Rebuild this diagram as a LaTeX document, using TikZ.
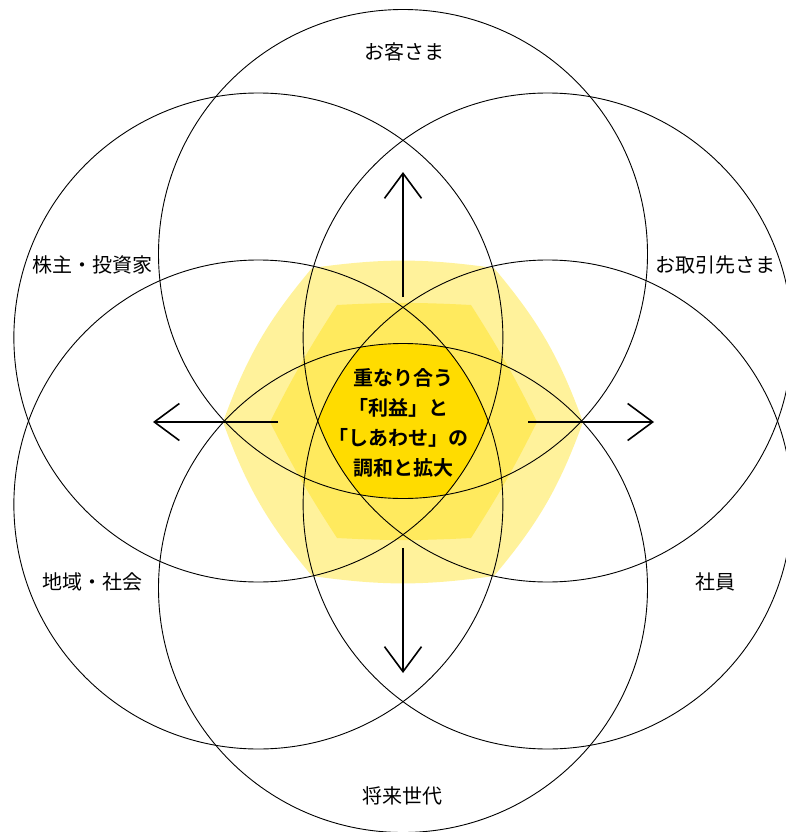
\documentclass[tikz,border=0pt]{standalone}
\usepackage{fontspec}
\setmainfont{Noto Sans CJK JP}[BoldFont={Noto Sans CJK JP Bold}]
\newfontfamily\coeurfont{Noto Sans CJK JP Bold}
\newfontfamily\coeurhalt{Noto Sans CJK JP Bold}[RawFeature=+halt]
\usetikzlibrary{arrows.meta}
\definecolor{jaunepale}{HTML}{FFF29B}
\definecolor{jaunemoyen}{HTML}{FFEA5E}
\definecolor{jaunevif}{HTML}{FFDC00}
\tikzstyle{cercle}=[draw=black,line width=0.9pt]
\tikzstyle{fleche}=[-{Straight Barb[length=25pt,width=37pt]},line width=1.6pt,line join=miter]
\tikzstyle{partie}=[font=\fontsize{20}{24}\selectfont,inner sep=0pt]
\tikzstyle{coeur}=[align=center,font=\coeurfont\fontsize{20}{30}\selectfont,inner sep=0pt]
\newcommand{\ouvre}{{\coeurhalt 「}}

\begin{document}
\begin{tikzpicture}[x=1pt,y=-1pt]
\useasboundingbox (0,0) rectangle (786,832);
\coordinate (c) at (403,421);
%fonds jaunes
\fill[jaunepale] (223,422) to[bend left=10] (312,268) to[bend left=8] (494,268)
  to[bend left=10] (583,422) to[bend left=10] (494,576) to[bend left=8] (312,576)
  to[bend left=10] cycle;
\fill[jaunemoyen] (270,422) to[bend left=3] (337,305) to[bend left=3] (471,305)
  to[bend left=3] (537,422) to[bend left=3] (471,538) to[bend left=3] (337,538)
  to[bend left=3] cycle;
\begin{scope}
\clip (c) ++(30:167) circle (244.5);
\clip (c) ++(90:167) circle (244.5);
\clip (c) ++(150:167) circle (244.5);
\clip (c) ++(210:167) circle (244.5);
\clip (c) ++(270:167) circle (244.5);
\clip (c) ++(330:167) circle (244.5);
\fill[jaunevif] (c) circle (120);
\end{scope}
%cercles
\foreach \a in {30,90,150,210,270,330}
  \draw[cercle] (c) ++(\a:167) circle (244.5);
%fleches
\coordinate (hautdep) at (403,297);
\coordinate (hautfin) at (403,172);
\coordinate (basdep) at (403,548);
\coordinate (basfin) at (403,673);
\coordinate (gauchedep) at (278,422);
\coordinate (gauchefin) at (153,422);
\coordinate (droitedep) at (528,422);
\coordinate (droitefin) at (654,422);
\draw[fleche] (hautdep) -- (hautfin);
\draw[fleche] (basdep) -- (basfin);
\draw[fleche] (gauchedep) -- (gauchefin);
\draw[fleche] (droitedep) -- (droitefin);
%textes
\node[partie] (clients) at (404,52) {お客さま};
\node[partie] (actionnaires) at (92,265) {株主・投資家};
\node[partie] (fournisseurs) at (715,265) {お取引先さま};
\node[partie] (societe) at (92,582) {地域・社会};
\node[partie] (employes) at (715,582) {社員};
\node[partie] (avenir) at (402,796) {将来世代};
\node[coeur] (centre) at (403,423) {重なり合う\\\ouvre 利益」と\\\ouvre しあわせ」の\\調和と拡大};
\end{tikzpicture}
\end{document}
